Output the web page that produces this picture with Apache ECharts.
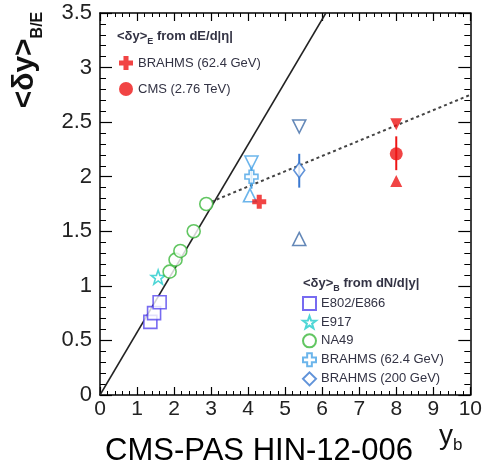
<!DOCTYPE html>
<html>
<head>
<meta charset="utf-8">
<script src="https://cdn.jsdelivr.net/npm/echarts@6/dist/echarts.min.js"></script>
<style>
html,body{margin:0;padding:0;background:#fff;}
#chart{width:485px;height:465px;}
</style>
</head>
<body>
<div id="chart"></div>
<script>
// ---- data ----
const xRange = [0, 10];
const yRange = [0, 3.5];

const fitSolidX = [0, 6.1];
const fitSolidY = [0, 3.5];
const fitDashX = [3.0, 10];
const fitDashY = [1.77, 2.75];

const e802X = [1.36, 1.46, 1.61];
const e802Y = [0.67, 0.75, 0.85];
const e917X = [1.57];
const e917Y = [1.08];
const na49X = [1.88, 2.04, 2.17, 2.53, 2.87];
const na49Y = [1.13, 1.24, 1.32, 1.50, 1.75];

const brahms62NX = [4.09];
const brahms62NY = [2.00];
const brahms62NLo = [1.89];
const brahms62NHi = [2.11];
const brahms62NLowerX = [4.05];
const brahms62NLowerY = [1.83];
const brahms62NUpperX = [4.09];
const brahms62NUpperY = [2.13];

const brahms200X = [5.38];
const brahms200Y = [2.06];
const brahms200Lo = [1.90];
const brahms200Hi = [2.21];
const brahms200LowerX = [5.38];
const brahms200LowerY = [1.43];
const brahms200UpperX = [5.38];
const brahms200UpperY = [2.46];

const brahms62EX = [4.30];
const brahms62EY = [1.77];

const cmsX = [8.0];
const cmsY = [2.21];
const cmsLo = [2.06];
const cmsHi = [2.37];
const cmsLowerX = [8.0];
const cmsLowerY = [1.96];
const cmsUpperX = [8.0];
const cmsUpperY = [2.48];

const legendE = ['BRAHMS (62.4 GeV)', 'CMS (2.76 TeV)'];
const legendB = ['E802/E866', 'E917', 'NA49', 'BRAHMS (62.4 GeV) ', 'BRAHMS (200 GeV)'];

// ---- helpers ----
const zip = (xs, ys) => xs.map((x, i) => [x, ys[i]]);
const zip3 = (xs, a, b) => xs.map((x, i) => [x, a[i], b[i]]);
const FONT = 'Liberation Sans, Arial, Helvetica, sans-serif';

const STAR = 'path://M50,0 L61.8,33.8 L97.6,34.5 L69,56.2 L79.4,90.5 L50,70 L20.6,90.5 L31,56.2 L2.4,34.5 L38.2,33.8 Z';
const CROSS = 'path://M32,0 L68,0 L68,32 L100,32 L100,68 L68,68 L68,100 L32,100 L32,68 L0,68 L0,32 L32,32 Z';

const C_VIOLET = '#5546ee';
const C_CYAN = '#22cccc';
const C_GREEN = '#3bb83b';
const C_LBLUE = '#47a2e6';
const C_BLUE = '#3a78d0';
const C_SBLUE = '#3d6aa6';
const C_RED = '#ee1515';

function hollow(name, data, symbol, size, color, extra) {
  return Object.assign({
    name: name, type: 'scatter', data: data, symbol: symbol, symbolSize: size,
    itemStyle: {color: '#ffffff', borderColor: color, borderWidth: 1.6},
    z: 5
  }, extra || {});
}
function filled(name, data, symbol, size, color, extra) {
  return Object.assign({
    name: name, type: 'scatter', data: data, symbol: symbol, symbolSize: size,
    itemStyle: {color: color},
    z: 5
  }, extra || {});
}
function errBars(name, data, color) {
  return {
    name: name, type: 'custom', data: data, z: 4,
    encode: {x: 0, y: [1, 2]},
    renderItem: function (params, api) {
      const x = api.value(0), lo = api.value(1), hi = api.value(2);
      const p1 = api.coord([x, lo]), p2 = api.coord([x, hi]);
      return {type: 'line', shape: {x1: p1[0], y1: p1[1], x2: p2[0], y2: p2[1]},
        style: {stroke: color, lineWidth: 2}};
    }
  };
}

function xAx(pos, labels) {
  return {
    type: 'value', position: pos, min: xRange[0], max: xRange[1], interval: 1,
    axisLine: {show: true, onZero: false, lineStyle: {color: '#000', width: 1.5}},
    axisTick: {show: true, inside: true, length: 8, lineStyle: {color: '#000', width: 1.2}},
    minorTick: {show: true, splitNumber: 5, length: 4, lineStyle: {color: '#000', width: 1}},
    axisLabel: {show: labels, fontSize: 21, color: '#222', fontFamily: FONT, margin: 4},
    splitLine: {show: false}, minorSplitLine: {show: false}
  };
}
function yAx(pos, labels) {
  return {
    type: 'value', position: pos, min: yRange[0], max: yRange[1], interval: 0.5,
    axisLine: {show: true, onZero: false, lineStyle: {color: '#000', width: 1.5}},
    axisTick: {show: true, inside: true, length: 12, lineStyle: {color: '#000', width: 1.2}},
    minorTick: {show: true, splitNumber: 5, length: 6, lineStyle: {color: '#000', width: 1}},
    axisLabel: {show: labels, fontSize: 22, color: '#222', fontFamily: FONT, margin: 8},
    splitLine: {show: false}, minorSplitLine: {show: false}
  };
}

const chart = echarts.init(document.getElementById('chart'), null, {renderer: 'canvas'});

const option = {
  animation: false,
  backgroundColor: '#fff',
  grid: {left: 100, right: 13, top: 13, bottom: 70, containLabel: false},
  xAxis: [xAx('bottom', true), xAx('top', false)],
  yAxis: [yAx('left', true), yAx('right', false)],
  legend: [
    {
      data: legendE, orient: 'vertical', left: 119, top: 56, padding: 0,
      itemWidth: 14, itemHeight: 14, itemGap: 12,
      textStyle: {fontSize: 13, color: '#333344', fontFamily: FONT, lineHeight: 14},
      formatter: n => n.trim(), selectedMode: false
    },
    {
      data: legendB, orient: 'vertical', left: 302, top: 296, padding: 0,
      itemWidth: 13, itemHeight: 13, itemGap: 4,
      textStyle: {fontSize: 13, color: '#333344', fontFamily: FONT, lineHeight: 13},
      formatter: n => n.trim(), selectedMode: false
    }
  ],
  graphic: [
    {
      type: 'text', left: 117, top: 30, z: 10,
      style: {
        text: '{m|<δy>}{s|E}{m| from dE/d|η|}',
        rich: {
          m: {fontSize: 13, fontWeight: 'bold', fontFamily: FONT, fill: '#333344', lineHeight: 19},
          s: {fontSize: 9, fontWeight: 'bold', fontFamily: FONT, fill: '#333344', verticalAlign: 'bottom'}
        }
      }
    },
    {
      type: 'text', left: 303, top: 277, z: 10,
      style: {
        text: '{m|<δy>}{s|B}{m| from dN/d|y|}',
        rich: {
          m: {fontSize: 13, fontWeight: 'bold', fontFamily: FONT, fill: '#333344', lineHeight: 19},
          s: {fontSize: 9, fontWeight: 'bold', fontFamily: FONT, fill: '#333344', verticalAlign: 'bottom'}
        }
      }
    },
    {
      type: 'text', x: 25, y: 60, rotation: Math.PI / 2, z: 10,
      style: {
        text: '{m|<δy>}{s|B/E}',
        align: 'center', verticalAlign: 'middle',
        rich: {
          m: {fontSize: 30, fontWeight: 'bold', fontFamily: FONT, fill: '#111', lineHeight: 42},
          s: {fontSize: 16, fontWeight: 'bold', fontFamily: FONT, fill: '#111', verticalAlign: 'bottom'}
        }
      }
    },
    {
      type: 'text', left: 439, top: 422, z: 10,
      style: {
        text: '{m|y}{s|b}',
        rich: {
          m: {fontSize: 28, fontFamily: FONT, fill: '#111', lineHeight: 36},
          s: {fontSize: 17, fontFamily: FONT, fill: '#111', verticalAlign: 'bottom'}
        }
      }
    },
    {
      type: 'text', x: 259, y: 451, z: 10,
      style: {
        text: 'CMS-PAS HIN-12-006', align: 'center', verticalAlign: 'middle',
        fontSize: 31, fontFamily: FONT, fill: '#000'
      }
    }
  ],
  series: [
    {name: 'fitSolid', type: 'line', data: zip(fitSolidX, fitSolidY), symbol: 'none',
      lineStyle: {color: '#222', width: 1.5}, z: 2},
    {name: 'fitDash', type: 'line', data: zip(fitDashX, fitDashY), symbol: 'none',
      lineStyle: {color: '#444', width: 2, type: [3, 3]}, z: 2},

    errBars('errB62', zip3(brahms62NX, brahms62NLo, brahms62NHi), C_LBLUE),
    errBars('errB200', zip3(brahms200X, brahms200Lo, brahms200Hi), C_BLUE),
    errBars('errCMS', zip3(cmsX, cmsLo, cmsHi), C_RED),

    hollow('E802/E866', zip(e802X, e802Y), 'rect', 13, C_VIOLET),
    hollow('E917', zip(e917X, e917Y), STAR, 14, C_CYAN),
    hollow('NA49', zip(na49X, na49Y), 'circle', 13, C_GREEN),
    hollow('BRAHMS (62.4 GeV) ', zip(brahms62NX, brahms62NY), CROSS, 13, C_LBLUE),
    hollow('BRAHMS (200 GeV)', zip(brahms200X, brahms200Y), 'diamond', [11, 15], C_BLUE),

    hollow('b62lower', zip(brahms62NLowerX, brahms62NLowerY), 'triangle', 13, C_LBLUE),
    hollow('b62upper', zip(brahms62NUpperX, brahms62NUpperY), 'triangle', 13, C_LBLUE, {symbolRotate: 180}),
    hollow('b200lower', zip(brahms200LowerX, brahms200LowerY), 'triangle', 13, C_SBLUE),
    hollow('b200upper', zip(brahms200UpperX, brahms200UpperY), 'triangle', 13, C_SBLUE, {symbolRotate: 180}),

    filled('BRAHMS (62.4 GeV)', zip(brahms62EX, brahms62EY), CROSS, 14, C_RED, {z: 6}),
    filled('CMS (2.76 TeV)', zip(cmsX, cmsY), 'circle', 13, C_RED),
    filled('cmsLower', zip(cmsLowerX, cmsLowerY), 'triangle', 12, C_RED),
    filled('cmsUpper', zip(cmsUpperX, cmsUpperY), 'triangle', 12, C_RED, {symbolRotate: 180})
  ]
};
chart.setOption(option);
</script>
</body>
</html>
